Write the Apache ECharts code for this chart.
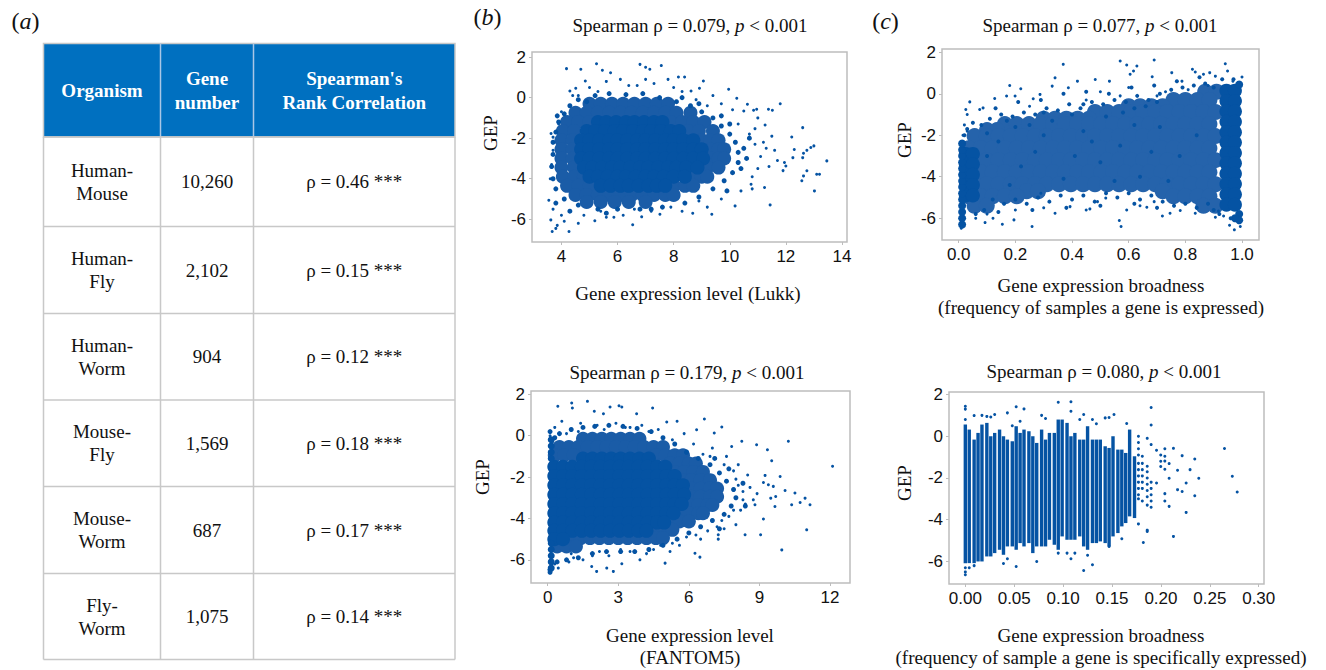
<!DOCTYPE html>
<html>
<head>
<meta charset="utf-8">
<title>GEP scatter panels</title>
<script src="https://cdn.jsdelivr.net/npm/echarts@6/dist/echarts.min.js"></script>
<style>
  html, body { margin: 0; padding: 0; background: #fff; }
  #chart { width: 1326px; height: 670px; }
</style>
</head>
<body>
<div id="chart"></div>
<script>
// ---- table (a) ----
let tableHead = ['Organism', 'Gene\nnumber', "Spearman's\nRank Correlation"];
let organisms = ['Human-\nMouse', 'Human-\nFly', 'Human-\nWorm', 'Mouse-\nFly', 'Mouse-\nWorm', 'Fly-\nWorm'];
let geneNumbers = ['10,260', '2,102', '904', '1,569', '687', '1,075'];
let rhoValues = [0.46, 0.15, 0.12, 0.18, 0.17, 0.14];

// ---- panel titles (Spearman rho of each scatter) ----
let panelRho = ['0.079', '0.077', '0.179', '0.080'];

// ---- axis ticks ----
let lukkTicks = [4, 6, 8, 10, 12, 14];
let broadTicks = [0, 0.2, 0.4, 0.6, 0.8, 1.0];
let fantomTicks = [0, 3, 6, 9, 12];
let specTicks = [0, 0.05, 0.1, 0.15, 0.2, 0.25, 0.3];
let gepTicks = [-6, -4, -2, 0, 2];

// clouds are written row by row: [GEP, [x values read along that row]]
// core = saturated part, ring/band = speckled part, edge = thinning border

// ---- (b) top: GEP vs expression level (Lukk) ----
let lukkCore = [
  [-1.2, [5.3,5.6,5.95,6.3,6.6,6.95,7.3,7.6]],
  [-1.65, [4.9,5.2,5.55,5.9,6.2,6.55,6.9,7.2,7.55,7.9,8.2]],
  [-2.1, [4.7,5.0,5.35,5.7,6.0,6.35,6.7,7.0,7.35,7.7,8.0,8.35,8.7]],
  [-2.55, [4.7,5.0,5.35,5.7,6.0,6.35,6.7,7.0,7.35,7.7,8.0,8.35,8.7,9.0]],
  [-3.0, [4.7,5.0,5.35,5.7,6.0,6.35,6.7,7.0,7.35,7.7,8.0,8.35,8.7,9.05]],
  [-3.45, [4.8,5.1,5.45,5.8,6.1,6.45,6.8,7.1,7.45,7.8,8.1,8.45,8.85]],
  [-3.9, [5.0,5.3,5.65,6.0,6.3,6.65,7.0,7.3,7.65,8.0,8.4]],
  [-4.35, [5.4,5.75,6.1,6.4,6.75,7.1,7.4,7.7]]
];
let lukkRing = [
  [-0.3, [5.0,5.4,5.8,6.2,6.6,7.0,7.4,7.8]],
  [-0.75, [4.5,4.9,5.3,5.7,6.1,6.5,6.9,7.3,7.7,8.1,8.6]],
  [-1.2, [4.2,4.6,5.0,7.9,8.3,8.7,9.1]],
  [-1.65, [4.05,4.45,8.5,8.9,9.4]],
  [-2.1, [4.0,4.4,9.0,9.3,9.6]],
  [-2.55, [4.0,4.4,9.3,9.6,9.8]],
  [-3.0, [4.0,4.4,9.35,9.6,9.8]],
  [-3.45, [4.0,4.45,9.2,9.6]],
  [-3.9, [4.05,4.45,4.8,8.7,9.0,9.2]],
  [-4.35, [4.2,4.6,5.0,8.0,8.4,8.7]],
  [-4.8, [4.5,4.9,5.3,5.7,6.1,6.5,6.9,7.3,7.7,8.0]],
  [-5.15, [4.9,5.4,5.9,6.4,7.0]]
];
let lukkEdge = [
  [4.6,-0.1],[5.2,0.1],[5.7,0.2],[6.3,0.15],[6.9,0.2],[7.5,0.0],[8.1,-0.2],[8.6,-0.4],[9.0,-0.7],[9.4,-1.0],
  [9.7,-1.4],[10.0,-1.8],[10.2,-2.2],[10.3,-2.7],[10.3,-3.2],[10.1,-3.7],[9.8,-4.1],[9.4,-4.5],[8.9,-4.9],[8.4,-5.2],
  [7.6,-5.4],[6.8,-5.5],[6.0,-5.5],[5.3,-5.5],[4.6,-5.3],[4.1,-5.0],[3.8,-4.5],[3.7,-4.0],[3.65,-3.4],[3.7,-2.8],
  [3.7,-2.2],[3.8,-1.7],[3.9,-1.2],[4.1,-0.8],[4.3,-0.4],[4.9,-0.2],[8.3,0.0],[9.7,-0.9],[10.5,-2.5],[10.6,-3.0],
  [10.4,-3.5],[9.9,-4.6],[7.2,-5.5],[5.6,-5.7],[4.3,-5.6],[3.8,-5.2],[3.85,-0.9],[8.9,-0.3],[10.0,-1.3],[10.7,-2.0]
];
let lukkDots = [
  [4.18,1.43],[4.69,1.40],[5.25,1.67],[5.46,1.35],[5.75,1.23],[6.80,1.64],[7.15,1.40],[7.0,1.5],[7.56,1.58],[4.85,0.82],
  [8.17,1.02],[8.39,1.02],[9.06,0.82],[9.96,0.41],[8.92,0.46],[8.62,0.33],[10.25,-0.03],[10.63,-0.33],[10.5,-0.66],[10.85,-0.62],
  [10.96,-0.57],[11.38,-0.57],[11.52,-0.62],[11.80,-0.30],[11.26,-1.35],[10.9,-1.53],[12.21,-1.94],[12.6,-1.48],[12.3,-2.56],[12.63,-2.74],
  [12.6,-2.96],[12.25,-2.96],[13.0,-2.38],[12.89,-2.46],[12.75,-2.6],[13.46,-3.12],[13.2,-3.78],[13.1,-3.78],[12.75,-3.61],[12.63,-3.86],
  [12.57,-4.1],[13.02,-4.6],[11.9,-3.6],[12.0,-3.37],[11.95,-3.2],[11.44,-5.29],[11.24,-4.43],[10.76,-4.27],[10.8,-4.5],[10.19,-5.34],
  [9.36,-5.75],[8.68,-5.7],[7.51,-5.75],[6.54,-6.27],[6.86,-5.88],[5.87,-5.9],[5.6,-5.9],[5.19,-6.07],[4.27,-6.6],[3.67,-6.6],
  [3.8,-6.45],[3.85,-6.3],[3.55,-5.06],[3.62,-6.03],[3.63,-1.77],[3.7,-1.95],[4.3,0.33],[4.51,0.46],[4.4,0.1],[5.0,0.5],
  [5.6,0.8],[6.1,0.9],[6.4,0.6],[7.3,0.7],[7.8,0.9],[8.0,0.5],[9.4,0.1],[9.7,-0.3],[10.1,-0.6],[11.0,-1.0],
  [11.5,-1.9],[11.2,-2.2],[11.6,-2.6],[11.1,-2.9],[11.7,-3.1],[11.4,-3.4],[11.0,-3.5],[10.8,-3.9],[10.4,-4.6],[9.7,-5.0],
  [9.2,-5.4],[8.3,-5.6],[7.9,-5.4],[7.2,-5.6],[6.2,-5.8],[5.4,-5.6],[4.8,-5.8],[4.6,-6.2],[4.1,-6.1],[4.0,-5.8],
  [3.7,-5.5],[3.6,-4.0],[3.65,-3.3],[3.7,-2.6],[3.9,-1.3],[4.0,-0.7],[4.6,0.1],[5.3,0.3],[6.7,0.6],[7.0,0.9],
  [8.3,0.3],[8.8,-0.1],[9.2,-0.4],[10.3,-1.3],[10.7,-1.8],[11.3,-2.5],[10.9,-2.3],[9.9,-4.6],[8.9,-5.1],[6.6,-5.5]
];

// ---- (c) top: GEP vs expression broadness ----
let broadBand = [
  [0.1, [0.87,0.91]],
  [-0.3, [0.758,0.8,0.843,0.885]],
  [-0.6, [0.6,0.64,0.68,0.72]],
  [-0.88, [0.481,0.524,0.566,0.609,0.651,0.694,0.736,0.779,0.821,0.864,0.906]],
  [-1.2, [0.3,0.34,0.38,0.42,0.46]],
  [-1.46, [0.163,0.205,0.248,0.29,0.333,0.375,0.418,0.46,0.503,0.545,0.588,0.63,0.673,0.715,0.758,0.8,0.843,0.885]],
  [-1.75, [0.1,0.135]],
  [-2.04, [0.056,0.099,0.141,0.184,0.226,0.269,0.311,0.354,0.396,0.439,0.481,0.524,0.566,0.609,0.651,0.694,0.736,0.779,0.821,0.864,0.906]],
  [-2.62, [0.035,0.078,0.12,0.163,0.205,0.248,0.29,0.333,0.375,0.418,0.46,0.503,0.545,0.588,0.63,0.673,0.715,0.758,0.8,0.843,0.885]],
  [-3.2, [0.056,0.099,0.141,0.184,0.226,0.269,0.311,0.354,0.396,0.439,0.481,0.524,0.566,0.609,0.651,0.694,0.736,0.779,0.821,0.864,0.906]],
  [-3.78, [0.035,0.078,0.12,0.163,0.205,0.248,0.29,0.333,0.375,0.418,0.46,0.503,0.545,0.588,0.63,0.673,0.715,0.758,0.8,0.843,0.885]],
  [-4.36, [0.056,0.099,0.141,0.184,0.226,0.269,0.311,0.354,0.396,0.439,0.481,0.524,0.566,0.609,0.651,0.694,0.736,0.779,0.821,0.864,0.906]],
  [-4.7, [0.24,0.28,0.72]],
  [-4.94, [0.035,0.078,0.12,0.163,0.205,0.758,0.8,0.843,0.885]],
  [-5.4, [0.056,0.099,0.864,0.906]]
];
let broadSide = [
  [0.15, [0.945,0.975]], [-0.35, [0.945,0.975]], [-0.85, [0.945,0.975]], [-1.35, [0.945,0.975]],
  [-1.85, [0.945,0.975]], [-2.35, [0.945,0.975]], [-2.85, [0.945,0.975]], [-3.35, [0.945,0.975]],
  [-3.85, [0.945,0.975]], [-4.35, [0.945,0.975]], [-4.85, [0.945,0.975]], [-5.35, [0.945,0.975]],
  [-2.9, [0.025,0.05]], [-3.4, [0.025,0.05]], [-3.9, [0.025,0.05]], [-4.4, [0.025,0.05]], [-4.9, [0.025,0.05]]
];
let broadWall = [
  [0.012,-6.3],[0.012,-6.0],[0.012,-5.7],[0.012,-5.4],[0.012,-5.1],[0.012,-4.8],[0.012,-4.5],[0.012,-4.2],
  [0.012,-3.9],[0.012,-3.6],[0.012,-3.3],[0.012,-3.0],[0.012,-2.7],[0.012,-2.4],
  [0.99,0.45],[0.99,-5.8],[0.99,-6.1],[0.975,-6.0]
];
let broadMid = [
  [0.05,-1.4],[0.08,-1.5],[0.11,-1.2],[0.15,-1.0],[0.19,-1.1],[0.23,-0.9],[0.27,-1.0],[0.31,-0.7],[0.35,-0.8],[0.39,-0.5],
  [0.43,-0.7],[0.47,-0.4],[0.51,-0.5],[0.55,-0.3],[0.59,-0.4],[0.63,-0.1],[0.67,-0.3],[0.71,0.0],[0.75,0.2],[0.79,0.3],
  [0.83,0.4],[0.87,0.5],[0.02,-2.0],[0.03,-1.7],[0.13,-0.7],[0.21,-0.4],[0.29,-0.3],[0.37,0.0],[0.45,0.1],[0.53,0.0],
  [0.61,0.3],[0.69,0.4],[0.77,0.6],[0.85,0.8],[0.93,0.7],[0.97,0.7],[0.9,0.3],[0.66,-0.6],[0.62,-0.7],[0.58,-0.9],
  [0.52,-1.1],[0.4,-1.0],[0.33,-1.3],[0.25,-1.5],[0.2,-1.6],[0.1,-1.9],[0.17,-1.3],[0.3,-0.9],[0.44,-0.5],[0.7,-0.4],
  [0.12,-5.1],[0.16,-5.3],[0.2,-5.1],[0.24,-5.3],[0.28,-5.0],[0.32,-5.2],[0.36,-4.9],[0.4,-5.1],[0.44,-4.9],[0.48,-5.2],
  [0.52,-4.8],[0.56,-5.0],[0.6,-4.8],[0.64,-5.1],[0.68,-4.9],[0.72,-5.2],[0.76,-5.4],[0.8,-5.3],[0.84,-5.5],[0.88,-5.3],
  [0.92,-5.8],[0.96,-6.0],[0.06,-5.8],[0.09,-5.6],[0.14,-5.7],[0.26,-5.6],[0.38,-5.5],[0.5,-5.4],[0.62,-5.3],[0.7,-5.5],[0.9,-5.6],
  [0.14,-2.3],[0.22,-3.5],[0.3,-2.0],[0.37,-4.1],[0.44,-1.8],[0.5,-3.3],[0.57,-2.5],[0.64,-4.0],[0.71,-1.6],[0.78,-3.0],
  [0.84,-2.0],[0.18,-4.4],[0.27,-2.8],[0.41,-3.0],[0.55,-4.2],[0.68,-2.8],[0.74,-4.2],[0.1,-3.0],[0.47,-2.3],[0.62,-1.5]
];
let broadDots = [
  [0.039,-0.39],[0.025,-0.76],[0.03,-1.0],[0.074,-0.76],[0.086,-0.68],[0.127,-0.23],[0.18,0.4],[0.219,0.24],[0.169,-0.11],[0.199,-0.11],
  [0.263,-0.24],[0.287,-0.03],[0.33,0.37],[0.34,0.77],[0.369,1.42],[0.387,0.29],[0.419,0.61],[0.482,0.69],[0.532,0.61],[0.57,1.58],
  [0.593,1.39],[0.629,1.34],[0.605,0.94],[0.617,1.1],[0.69,1.63],[0.683,0.82],[0.752,1.02],[0.788,0.61],[0.825,1.18],[0.835,1.05],
  [0.864,0.94],[0.886,1.02],[0.941,1.45],[0.949,1.1],[0.906,0.85],[0.968,0.61],[1.0,0.81],
  [0.009,-6.48],[0.093,-6.21],[0.121,-6.0],[0.154,-6.29],[0.195,-6.08],[0.259,-6.4],[0.34,-5.76],[0.393,-5.44],[0.463,-5.55],
  [0.519,-5.03],[0.567,-6.11],[0.573,-6.4],[0.593,-5.6],[0.64,-5.4],[0.664,-5.47],[0.719,-5.89],[0.746,-5.76],[0.782,-5.63],[0.835,-5.76],
  [0.906,-5.95],[0.917,-5.65],[0.956,-6.34],[0.973,-6.56],[0.994,-6.4],[0.935,-5.89],
  [0.25,-0.6],[0.45,-0.3],[0.57,-0.1],[0.73,0.1],[0.81,0.2],[0.88,0.4],[0.02,-1.5],[0.015,-2.0],[0.03,-1.8],[0.06,-6.0],
  [0.1,-5.8],[0.2,-5.6],[0.3,-5.5],[0.45,-5.6],[0.7,-0.1],[0.6,0.3],[0.5,0.1],[0.29,-4.8],[0.49,-5.2],[0.69,-5.2]
];

// ---- (b) bottom: GEP vs expression level (FANTOM5) ----
let fantomCore = [
  [-1.1, [1.5,1.9,2.3,2.7,3.1,3.5,3.9,4.3]],
  [-1.5, [0.28,0.65,1.05,1.45,1.85,2.25,2.65,3.05,3.45,3.85,4.25,4.65,5.0]],
  [-1.95, [0.28,0.65,1.05,1.45,1.85,2.25,2.65,3.05,3.45,3.85,4.25,4.65,5.05,5.4]],
  [-2.4, [0.28,0.65,1.05,1.45,1.85,2.25,2.65,3.05,3.45,3.85,4.25,4.65,5.05,5.4,5.75]],
  [-2.85, [0.28,0.65,1.05,1.45,1.85,2.25,2.65,3.05,3.45,3.85,4.25,4.65,5.05,5.4,5.8]],
  [-3.3, [0.28,0.65,1.05,1.45,1.85,2.25,2.65,3.05,3.45,3.85,4.25,4.65,5.05,5.4,5.7]],
  [-3.75, [0.28,0.65,1.05,1.45,1.85,2.25,2.65,3.05,3.45,3.85,4.25,4.65,5.05,5.35]],
  [-4.2, [0.28,0.65,1.05,1.45,1.85,2.25,2.65,3.05,3.45,3.85,4.25,4.65,4.95]],
  [-4.6, [0.28,0.65,1.05,1.45,1.85,2.25,2.65,3.05,3.45,3.85,4.2]],
  [-5.0, [0.28,0.65]]
];
let fantomRing = [
  [-0.15, [1.5,1.9,2.3,2.7,3.1,3.5,3.9]],
  [-0.55, [0.5,0.9,1.3,1.7,2.1,2.5,2.9,3.3,3.7,4.1,4.5,4.9]],
  [-0.95, [0.3,0.7,1.1,4.6,5.0,5.4,5.75]],
  [-1.35, [5.2,5.6,6.0,6.3]],
  [-1.75, [5.4,5.8,6.2,6.6]],
  [-2.15, [5.7,6.1,6.5,6.9]],
  [-2.55, [6.1,6.5,6.9,7.2]],
  [-2.95, [6.1,6.5,6.9,7.2]],
  [-3.35, [6.0,6.4,6.8,7.0]],
  [-3.75, [5.6,6.0,6.4,6.6]],
  [-4.15, [5.2,5.6,6.0]],
  [-4.55, [4.5,4.9,5.3]],
  [-4.95, [0.6,1.0,1.4,1.8,2.2,2.6,3.0,3.4,3.8,4.2,4.6,4.9]],
  [-5.35, [0.4,0.8,1.2]]
];
let fantomEdge = [
  [0.5,0.1],[1.0,0.3],[1.5,0.4],[2.0,0.45],[2.6,0.5],[3.2,0.45],[3.8,0.35],[4.4,0.2],[4.9,-0.1],[5.4,-0.4],
  [5.9,-0.8],[6.4,-1.1],[6.9,-1.4],[7.3,-1.8],[7.6,-2.2],[7.9,-2.6],[8.0,-3.0],[7.8,-3.4],[7.5,-3.8],[7.0,-4.1],
  [6.5,-4.4],[6.0,-4.7],[5.5,-5.0],[4.9,-5.3],[4.3,-5.5],[3.7,-5.6],[3.1,-5.6],[2.5,-5.6],[1.9,-5.7],[1.3,-5.9],
  [0.8,-6.0],[0.4,-6.1],[0.1,-6.6],[0.1,0.2],[0.3,-0.1],[7.1,-1.1],[7.7,-1.6],[8.3,-2.3],[8.4,-3.4],[7.3,-4.5]
];
let fantomWall = [
  [0.15,-6.4],[0.15,-6.1],[0.15,-5.8],[0.15,-5.5],[0.15,-5.2],[0.15,-1.1],[0.15,-0.8],[0.15,-0.5],[0.15,-0.2]
];
let fantomDots = [
  [0.43,1.42],[1.02,1.58],[1.05,1.34],[1.69,1.66],[2.65,1.39],[3.03,1.45],[3.15,1.39],[1.98,1.18],[2.37,1.06],[3.78,1.06],
  [4.46,1.34],[5.06,0.66],[5.5,0.7],[6.66,0.81],[7.4,0.42],[7.08,0.13],[6.33,0.29],[7.82,-0.52],[8.25,-0.27],[8.88,-0.44],
  [9.34,-0.68],[10.23,-0.27],[12.11,-1.48],[9.52,-1.21],[9.24,-1.92],[9.88,-1.97],[9.17,-2.26],[9.38,-2.37],[9.59,-2.45],[10.09,-2.65],
  [10.51,-2.77],[10.94,-3.02],[10.73,-3.23],[11.15,-3.34],[10.37,-3.34],[11.01,-4.55],[9.95,-5.52],[9.05,-4.79],[9.17,-4.03],[9.66,-3.42],
  [9.48,-3.02],[9.69,-2.94],[8.81,-3.34],[8.74,-3.1],[8.39,-4.79],[7.25,-5.0],[7.25,-4.79],[6.47,-5.87],[6.26,-5.68],[4.99,-6.16],
  [3.92,-6.0],[3.15,-6.19],[2.79,-6.56],[2.08,-6.56],[2.51,-6.4],[1.87,-6.32],[0.45,-6.4],[0.05,-6.48],[0.3,0.4],[0.6,0.7],
  [1.4,0.6],[2.1,0.5],[2.9,0.6],[3.5,0.4],[4.0,0.5],[4.7,0.3],[5.8,0.1],[6.2,-0.4],[7.0,-0.6],[7.6,-1.0],
  [8.1,-1.4],[8.5,-1.9],[8.0,-2.1],[8.6,-2.5],[8.3,-2.7],[8.9,-2.8],[8.2,-3.6],[7.7,-3.9],[8.0,-4.3],[7.5,-4.5],
  [6.8,-4.6],[6.5,-5.0],[5.6,-5.3],[5.2,-5.6],[4.5,-5.5],[3.5,-5.6],[2.6,-5.8],[1.5,-6.0],[0.9,-6.1],[0.3,-6.2],
  [1.1,-5.9],[0.1,0.0],[0.2,-0.3],[6.9,-1.0],[7.9,-1.7],[8.4,-3.3],[7.4,-4.1],[5.9,-4.9],[4.8,-5.3],[1.9,-5.8],
  [0.8,0.1],[1.3,0.2],[2.4,0.3],[3.3,0.4],[4.3,0.2],[5.3,-0.2],[6.6,-0.9],[7.5,-1.4],[8.1,-2.4],[8.3,-3.1],[7.9,-3.6],
  [7.2,-4.4],[6.3,-4.8],[5.3,-5.2],[4.2,-5.7],[3.1,-5.5],[2.2,-5.6],[1.0,-5.7]
];

// ---- (c) bottom: GEP vs specific broadness ----
// each stripe: [x, lowest GEP, highest GEP]
let specStripes = [
  [0.000,-6.08,0.56],[0.004,-6.08,0.32],[0.009,-6.08,-0.16],[0.013,-6.0,0.16],[0.017,-6.0,0.56],
  [0.022,-5.76,0.64],[0.026,-5.76,0.0],[0.030,-5.6,0.16],[0.035,-5.44,0.32],[0.039,-5.68,0.0],
  [0.043,-5.28,-0.16],[0.048,-5.28,-0.24],[0.052,-5.44,0.48],[0.056,-5.12,0.16],[0.060,-5.28,0.32],
  [0.065,-5.12,0.24],[0.069,-5.6,0.0],[0.073,-5.28,-0.32],[0.078,-5.28,0.32],[0.082,-5.28,-0.16],
  [0.086,-4.96,0.16],[0.091,-5.2,0.16],[0.095,-5.44,0.8],[0.099,-4.8,0.8],[0.104,-4.96,0.64],
  [0.108,-4.96,0.0],[0.112,-4.96,0.16],[0.117,-4.8,-0.16],[0.121,-5.28,-0.16],[0.125,-5.44,0.48],
  [0.130,-5.12,-0.16],[0.134,-5.12,-0.16],[0.138,-5.04,-0.16],[0.143,-5.12,-0.48],[0.147,-5.28,-0.56],
  [0.151,-4.8,0.0],[0.156,-4.64,-0.64],[0.160,-4.32,-0.64],[0.164,-4.16,-0.8],[0.168,-3.84,0.32],
  [0.173,-3.92,-0.96]
];
let specDots = [
  [0.000,1.44],[0.000,1.30],[0.000,0.80],[0.000,-6.3],[0.000,-6.5],[0.000,-6.64],[0.004,-6.3],[0.009,-6.2],[0.009,0.99],[0.017,1.0],
  [0.022,0.95],[0.026,0.92],[0.030,1.04],[0.039,-6.1],[0.043,1.12],[0.043,-5.87],[0.048,0.5],[0.052,1.41],[0.052,-6.24],[0.056,0.72],
  [0.060,1.31],[0.073,-6.0],[0.078,1.0],[0.082,0.85],[0.095,1.63],[0.095,-5.6],[0.104,-5.6],[0.108,1.65],[0.108,1.2],[0.108,-5.87],
  [0.112,-5.6],[0.117,0.8],[0.121,1.04],[0.121,-6.43],[0.125,-5.7],[0.130,-6.16],[0.130,0.8],[0.134,0.6],[0.143,0.88],[0.147,0.9],
  [0.152,1.04],[0.147,-5.28],[0.160,-4.91],[0.165,0.61],[0.182,-5.09],[0.186,-4.56],
  [0.177,0.0],[0.177,-0.3],[0.177,-0.6],[0.177,-0.9],[0.177,-1.3],[0.177,-1.6],[0.177,-1.9],[0.177,-2.2],[0.177,-2.5],[0.177,-2.8],
  [0.177,-3.0],[0.177,-4.2],[0.181,-0.96],[0.181,-1.3],[0.181,-1.6],[0.181,-1.9],[0.181,-2.2],[0.181,-2.5],[0.181,-3.1],
  [0.186,-0.1],[0.186,-1.44],[0.186,-1.7],[0.186,-2.0],[0.186,-2.3],[0.186,-2.6],[0.186,-2.9],[0.186,-3.3],[0.186,-4.5],
  [0.190,1.38],[0.190,0.54],[0.190,-0.4],[0.190,-2.2],[0.190,-2.5],[0.190,-2.8],[0.190,-3.1],[0.190,-3.4],
  [0.1955,-0.67],[0.1998,-0.9],[0.1998,-1.2],[0.1998,-1.45],[0.204,-0.6],[0.204,-0.96],[0.204,-1.19],[0.204,-1.58],[0.2084,-1.31],[0.2084,-2.01],
  [0.2084,-3.36],[0.1955,-2.24],[0.204,-2.75],[0.204,-3.1],[0.2128,-0.58],[0.2128,-4.8],[0.217,-1.63],[0.217,-2.56],[0.2217,-0.93],[0.2217,-2.65],
  [0.2258,-2.24],[0.2258,-3.65],[0.2298,-1.6],[0.2346,-1.09],[0.2346,-2.85],[0.2387,-2.01],[0.265,-0.59],[0.273,-1.92],[0.278,-2.67]
];

// ---- drawing ----
const blue = '#0553a3';
const ringBlue = '#1a5ca7';
const bandBlue = '#2563ab';
const serif = '"Liberation Serif", "Times New Roman", serif';
const sans = '"Liberation Sans", Arial, sans-serif';

// row lists -> [x, GEP] pairs
function fromRows(rows) {
  let out = [];
  rows.forEach(function (r) {
    r[1].forEach(function (x) { out.push([x, r[0]]); });
  });
  return out;
}

let myChart = echarts.init(document.getElementById('chart'), null, { renderer: 'svg' });

// frames of the four scatter panels: b-top, c-top, b-bottom, c-bottom
let grids = [
  { left: 532, top: 52, width: 315, height: 190 },
  { left: 942, top: 49, width: 317, height: 191 },
  { left: 531, top: 391, width: 319, height: 192 },
  { left: 949, top: 392, width: 315, height: 192 }
].map(function (g) {
  return Object.assign(g, { show: true, borderColor: '#bdbdbd', borderWidth: 1.5, outerBoundsMode: 'none', containLabel: false });
});

function valueAxis(gridIndex, min, max, ticks, fmt) {
  return {
    type: 'value', gridIndex: gridIndex, min: min, max: max,
    splitLine: { show: false },
    axisLine: { show: false, onZero: false },
    axisTick: { show: true, customValues: ticks, length: 3, lineStyle: { color: '#bdbdbd', width: 1 } },
    axisLabel: { customValues: ticks, formatter: fmt, color: '#111', fontFamily: sans, fontSize: 17, margin: 6 }
  };
}

let xAxes = [
  valueAxis(0, 2.95, 14.18, lukkTicks, function (v) { return String(v); }),
  valueAxis(1, -0.059, 1.06, broadTicks, function (v) { return v.toFixed(1); }),
  valueAxis(2, -0.71, 12.85, fantomTicks, function (v) { return String(v); }),
  valueAxis(3, -0.0167, 0.3054, specTicks, function (v) { return v.toFixed(2); })
];
let yAxes = [
  valueAxis(0, -7.12, 2.25, gepTicks, function (v) { return String(v); }),
  valueAxis(1, -7.05, 2.16, gepTicks, function (v) { return String(v); }),
  valueAxis(2, -7.12, 2.16, gepTicks, function (v) { return String(v); }),
  valueAxis(3, -7.08, 2.12, gepTicks, function (v) { return String(v); })
];

function scatter(idx, data, size, color) {
  return {
    type: 'scatter', xAxisIndex: idx, yAxisIndex: idx, data: data,
    symbol: 'circle', symbolSize: size, silent: true,
    itemStyle: { color: color || blue, opacity: 1 }
  };
}

let series = [
  scatter(0, fromRows(lukkRing), 14, ringBlue), scatter(0, fromRows(lukkCore), 14),
  scatter(0, lukkEdge, 5), scatter(0, lukkDots, 3),
  scatter(1, fromRows(broadBand), 16, bandBlue), scatter(1, fromRows(broadSide), 14), scatter(1, broadWall, 8),
  scatter(1, broadMid, 4), scatter(1, broadDots, 3),
  scatter(2, fromRows(fantomRing), 14, ringBlue), scatter(2, fromRows(fantomCore), 14), scatter(2, fantomWall, 7),
  scatter(2, fantomEdge, 5), scatter(2, fantomDots, 3),
  {
    type: 'custom', xAxisIndex: 3, yAxisIndex: 3, data: specStripes, silent: true,
    encode: { x: 0, y: [1, 2] },
    renderItem: function (params, api) {
      let top = api.coord([api.value(0), api.value(2)]);
      let bot = api.coord([api.value(0), api.value(1)]);
      return { type: 'rect', shape: { x: top[0] - 1.7, y: top[1], width: 3.4, height: bot[1] - top[1] }, style: { fill: blue } };
    }
  },
  scatter(3, specDots, 3)
];

// texts
let graphic = [];
function addText(x, y, text, extra) {
  graphic.push(Object.assign({
    type: 'text', x: x, y: y, silent: true,
    style: Object.assign({
      text: text, fill: '#111', fontFamily: serif, fontSize: 19,
      align: 'center', verticalAlign: 'middle'
    }, (extra && extra.style) || {})
  }, (extra && extra.el) || {}));
}

let richParts = {
  n: { fontFamily: serif, fontSize: 19, fill: '#111' },
  i: { fontFamily: serif, fontSize: 19, fontStyle: 'italic', fill: '#111' },
  ln: { fontFamily: serif, fontSize: 24, fill: '#111' },
  li: { fontFamily: serif, fontSize: 24, fontStyle: 'italic', fill: '#111' }
};

// panel letters
[['a', 25.5, 21], ['b', 487.5, 17], ['c', 885.5, 21]].forEach(function (p) {
  addText(p[1], p[2], '{ln|(}{li|' + p[0] + '}{ln|)}', { style: { rich: richParts } });
});

// panel titles
let titlePos = [[690, 25], [1100, 25], [687, 372], [1104, 371]];
panelRho.forEach(function (r, i) {
  addText(titlePos[i][0], titlePos[i][1], '{n|Spearman ρ = ' + r + ', }{i|p}{n| < 0.001}', { style: { rich: richParts } });
});

// axis titles
addText(688, 293, 'Gene expression level (Lukk)');
addText(1101, 285, 'Gene expression broadness');
addText(1101, 307, '(frequency of samples a gene is expressed)');
addText(690, 635, 'Gene expression level');
addText(690, 657, '(FANTOM5)');
addText(1101, 635, 'Gene expression broadness');
addText(1101, 657, '(frequency of sample a gene is specifically expressed)');
[[490, 133], [904, 140], [482.5, 477], [904, 483]].forEach(function (p) {
  addText(p[0], p[1], 'GEP', { el: { rotation: Math.PI / 2 } });
});

// table (a)
let colX = [43.5, 160.5, 253.5, 455];
let rowY = [43.5, 137, 226.5, 313.5, 400, 486.5, 573.5, 659.5];
let lineColor = '#c8c8c8';
graphic.push({ type: 'rect', silent: true, shape: { x: colX[0], y: rowY[0], width: colX[3] - colX[0], height: rowY[1] - rowY[0] }, style: { fill: '#0070c0', stroke: lineColor, lineWidth: 1.5 } });
[colX[1], colX[2]].forEach(function (x) {
  graphic.push({ type: 'line', silent: true, shape: { x1: x, y1: rowY[0], x2: x, y2: rowY[1] }, style: { stroke: '#a9c6e6', lineWidth: 1.5 } });
});
colX.forEach(function (x) {
  graphic.push({ type: 'line', silent: true, shape: { x1: x, y1: rowY[1], x2: x, y2: rowY[7] }, style: { stroke: lineColor, lineWidth: 1.5 } });
});
rowY.slice(1).forEach(function (y) {
  graphic.push({ type: 'line', silent: true, shape: { x1: colX[0], y1: y, x2: colX[3], y2: y }, style: { stroke: lineColor, lineWidth: 1.5 } });
});
tableHead.forEach(function (h, c) {
  addText((colX[c] + colX[c + 1]) / 2, (rowY[0] + rowY[1]) / 2, h, { style: { fill: '#fff', fontWeight: 'bold', lineHeight: 24 } });
});
organisms.forEach(function (o, r) {
  let cy = (rowY[r + 1] + rowY[r + 2]) / 2;
  addText((colX[0] + colX[1]) / 2, cy, o, { style: { lineHeight: 23 } });
  addText((colX[1] + colX[2]) / 2, cy, geneNumbers[r]);
  addText((colX[2] + colX[3]) / 2, cy, 'ρ = ' + rhoValues[r].toFixed(2) + ' ***');
});

let option = {
  animation: false,
  backgroundColor: '#fff',
  grid: grids,
  xAxis: xAxes,
  yAxis: yAxes,
  series: series,
  graphic: graphic
};
myChart.setOption(option);
</script>
</body>
</html>
